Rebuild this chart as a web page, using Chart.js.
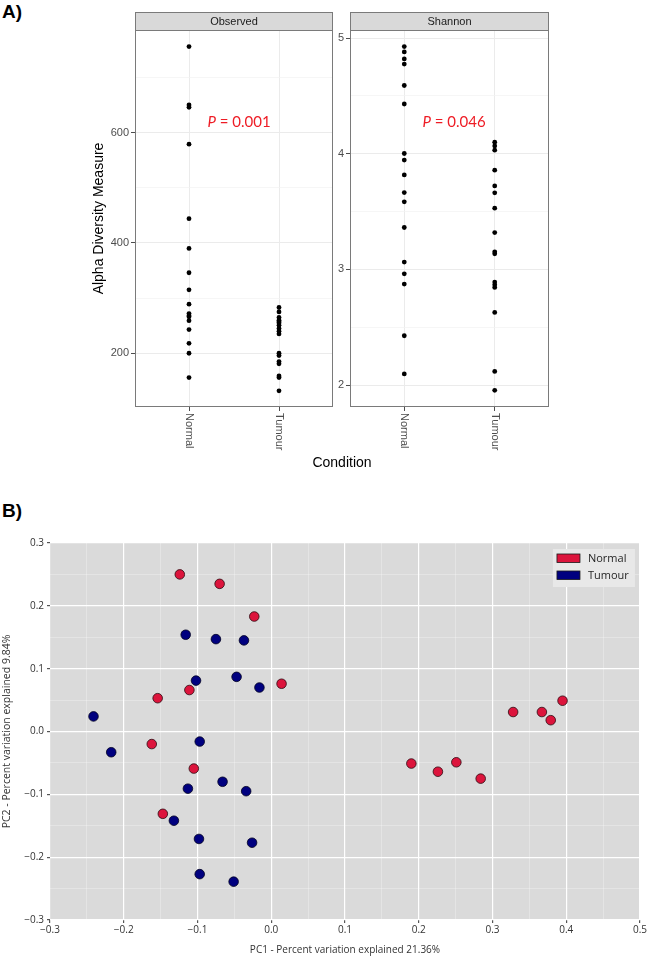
<!DOCTYPE html>
<html>
<head>
<meta charset="utf-8">
<script src="https://cdn.jsdelivr.net/npm/chart.js@4.4.1/dist/chart.umd.min.js"></script>
<style>
  html,body{margin:0;padding:0;background:#fff;}
  body{width:648px;height:959px;position:relative;overflow:hidden;}
  canvas{position:absolute;}
  .panel-label{position:absolute;font:bold 19px "Liberation Sans",Arial,sans-serif;color:#000;}
  #cond{position:absolute;left:242px;top:453px;width:200px;text-align:center;font:14px "Liberation Sans",Arial,sans-serif;line-height:18px;color:#000;}
</style>
</head>
<body>
<div class="panel-label" style="left:2px;top:1px;">A)</div>
<div class="panel-label" style="left:2px;top:500px;">B)</div>
<canvas id="obs" width="340" height="470" style="left:0;top:0;"></canvas>
<canvas id="sha" width="318" height="470" style="left:330px;top:0;"></canvas>
<div id="cond">Condition</div>
<canvas id="pca" width="648" height="469" style="left:0;top:490px;"></canvas>
<script>
// ---------------- DATA ----------------
const conditions = ['Normal', 'Tumour'];

const observedNormal = [756, 650, 646, 579, 444, 390, 346, 315, 289, 272, 268, 266, 259, 243, 218, 200, 156];
const observedTumour = [283, 275, 265, 260, 257, 255, 251, 245, 240, 235, 200, 196, 185, 181, 159, 156, 132];

const shannonNormal = [4.927, 4.88, 4.82, 4.775, 4.59, 4.43, 4.002, 3.945, 3.817, 3.664, 3.584, 3.362, 3.063, 2.962, 2.873, 2.426, 2.096];
const shannonTumour = [4.10, 4.068, 4.031, 3.858, 3.722, 3.662, 3.529, 3.318, 3.152, 3.135, 2.89, 2.867, 2.844, 2.628, 2.118, 1.954];

const observedTicks = [200, 300, 400, 500, 600, 700];
const shannonTicks = [2, 2.5, 3, 3.5, 4, 4.5, 5];

const pcaNormalPC1 = [-0.124, -0.070, -0.023, 0.014, -0.111, -0.154, -0.162, -0.105, -0.147, 0.190, 0.226, 0.251, 0.284, 0.328, 0.367, 0.379, 0.395];
const pcaNormalPC2 = [0.250, 0.235, 0.183, 0.076, 0.066, 0.053, -0.020, -0.059, -0.131, -0.051, -0.064, -0.049, -0.075, 0.031, 0.031, 0.018, 0.049];
const pcaTumourPC1 = [-0.116, -0.075, -0.037, -0.047, -0.016, -0.102, -0.241, -0.217, -0.097, -0.066, -0.113, -0.034, -0.132, -0.098, -0.026, -0.097, -0.051];
const pcaTumourPC2 = [0.154, 0.147, 0.145, 0.087, 0.070, 0.081, 0.024, -0.033, -0.016, -0.080, -0.091, -0.095, -0.142, -0.171, -0.177, -0.227, -0.239];

const pcaXTicks = [-0.3, -0.25, -0.2, -0.15, -0.1, -0.05, 0, 0.05, 0.1, 0.15, 0.2, 0.25, 0.3, 0.35, 0.4, 0.45, 0.5];
const pcaYTicks = [-0.3, -0.25, -0.2, -0.15, -0.1, -0.05, 0, 0.05, 0.1, 0.15, 0.2, 0.25, 0.3];

// ---------------- HELPERS ----------------
Chart.defaults.font.family = '"Liberation Sans", Arial, sans-serif';
const isMult = (v, m) => Math.abs(v / m - Math.round(v / m)) < 1e-6;

const facetPlugin = {
  id: 'facet',
  afterDraw(chart, args, opts) {
    const {ctx, chartArea: a} = chart;
    const xs = chart.scales.x, ys = chart.scales.y;
    ctx.save();
    // strip
    ctx.fillStyle = '#d9d9d9';
    ctx.fillRect(a.left, 12, a.right - a.left, a.top - 12);
    ctx.strokeStyle = '#7a7a7a';
    ctx.lineWidth = 1;
    ctx.strokeRect(a.left + 0.5, 12.5, a.right - a.left - 1, a.top - 12);
    ctx.fillStyle = '#1a1a1a';
    ctx.font = '11px "Liberation Sans", Arial, sans-serif';
    ctx.textAlign = 'center';
    ctx.textBaseline = 'middle';
    ctx.fillText(opts.title, (a.left + a.right) / 2, (12 + a.top) / 2 + 1);
    // panel border
    ctx.strokeRect(a.left + 0.5, a.top + 0.5, a.right - a.left - 1, a.bottom - a.top - 1);
    // rotated category labels (clockwise)
    ctx.fillStyle = '#4d4d4d';
    ctx.font = '11px "Liberation Sans", Arial, sans-serif';
    conditions.forEach((c, i) => {
      const px = xs.getPixelForValue(i + 1);
      ctx.save();
      ctx.translate(px, a.bottom + 6);
      ctx.rotate(Math.PI / 2);
      ctx.textAlign = 'left';
      ctx.textBaseline = 'middle';
      ctx.fillText(c, 0, 0);
      ctx.restore();
    });
    // P annotation
    const px = xs.getPixelForValue(opts.px), py = ys.getPixelForValue(opts.py);
    ctx.fillStyle = '#ee1c25';
    ctx.textBaseline = 'middle';
    ctx.textAlign = 'left';
    ctx.font = 'italic 15px Lato, "Open Sans", sans-serif';
    const wP = ctx.measureText('P').width;
    ctx.font = '15px Lato, "Open Sans", sans-serif';
    const rest = ' = ' + opts.pValue;
    const wR = ctx.measureText(rest).width;
    const x0 = px - (wP + wR) / 2;
    ctx.font = 'italic 15px Lato, "Open Sans", sans-serif';
    ctx.fillText('P', x0, py);
    ctx.font = '15px Lato, "Open Sans", sans-serif';
    ctx.fillText(rest, x0 + wP, py);
    ctx.restore();
  }
};

function facetChart(id, vals, yMin, yMax, yTicks, majorStep, opts) {
  return new Chart(document.getElementById(id), {
    type: 'scatter',
    data: {
      datasets: conditions.map((c, i) => ({
        label: c,
        data: vals[i].map(v => ({x: i + 1, y: v})),
        backgroundColor: '#000',
        borderWidth: 0,
        pointRadius: 2.4,
        pointHoverRadius: 2.4
      }))
    },
    options: {
      responsive: false,
      animation: false,
      events: [],
      layout: {padding: opts.padding},
      plugins: {legend: {display: false}, tooltip: {enabled: false}, facet: opts.facet},
      scales: {
        x: {
          type: 'linear', min: 0.4, max: 2.6,
          afterBuildTicks: s => { s.ticks = conditions.map((c, i) => ({value: i + 1})); },
          ticks: {display: false},
          grid: {color: '#ebebeb', lineWidth: 1, tickColor: '#4d4d4d', tickLength: 4},
          border: {display: false},
          afterFit: s => { s.height = 470 - 407; }
        },
        y: {
          type: 'linear', min: yMin, max: yMax,
          afterBuildTicks: s => { s.ticks = yTicks.map(v => ({value: v})); },
          ticks: {
            color: '#4d4d4d', font: {size: 11}, padding: 2,
            callback: v => isMult(v, majorStep) ? String(v) : ''
          },
          grid: {
            color: c => (c.tick && isMult(c.tick.value, majorStep)) ? '#ebebeb' : '#f2f2f2',
            lineWidth: c => (c.tick && isMult(c.tick.value, majorStep)) ? 1 : 0.7,
            tickColor: c => (c.tick && isMult(c.tick.value, majorStep)) ? '#4d4d4d' : 'rgba(0,0,0,0)',
            tickLength: 4
          },
          border: {display: false},
          title: opts.yTitle ? {display: true, text: opts.yTitle, color: '#000', font: {size: 14}, padding: {top: 3, bottom: 0}} : {display: false},
          afterFit: s => { s.width = opts.yWidth; }
        }
      }
    },
    plugins: [facetPlugin]
  });
}

facetChart('obs', [observedNormal, observedTumour], 102.6, 786, observedTicks, 200, {
  padding: {left: 88, right: 7, top: 30, bottom: 0},
  yWidth: 47,
  yTitle: 'Alpha Diversity Measure',
  facet: {title: 'Observed', pValue: '0.001', px: 1.556, py: 619}
});

facetChart('sha', [shannonNormal, shannonTumour], 1.81, 5.07, shannonTicks, 1, {
  padding: {left: 0, right: 99, top: 30, bottom: 0},
  yWidth: 20,
  yTitle: null,
  facet: {title: 'Shannon', pValue: '0.046', px: 1.55, py: 4.276}
});

// ---------------- PANEL B ----------------
const bgPlugin = {
  id: 'bg',
  beforeDraw(chart) {
    const {ctx, chartArea: a} = chart;
    ctx.save();
    ctx.fillStyle = '#dadada';
    ctx.fillRect(a.left, a.top, a.right - a.left, a.bottom - a.top);
    ctx.restore();
  }
};
const boxLegendPlugin = {
  id: 'boxLegend',
  afterDraw(chart) {
    const {ctx, chartArea: a} = chart;
    const ds = chart.data.datasets;
    const bx = a.right - 87, by = a.top + 6, bw = 82, bh = 38;
    ctx.save();
    ctx.fillStyle = '#e8e8e8';
    ctx.fillRect(bx, by, bw, bh);
    ds.forEach((d, i) => {
      const ry = by + 5 + i * 17;
      ctx.fillStyle = d.backgroundColor;
      ctx.fillRect(bx + 4, ry, 23, 8.5);
      ctx.strokeStyle = '#1a1a1a';
      ctx.lineWidth = 0.8;
      ctx.strokeRect(bx + 4, ry, 23, 8.5);
      ctx.fillStyle = '#262626';
      ctx.font = '11px "Open Sans", sans-serif';
      ctx.textAlign = 'left';
      ctx.textBaseline = 'middle';
      ctx.fillText(d.label, bx + 35, ry + 4.5);
    });
    ctx.restore();
  }
};
const fmt = v => (v < 0 ? '\u2212' : '') + Math.abs(v).toFixed(1);

new Chart(document.getElementById('pca'), {
  type: 'scatter',
  data: {
    datasets: [
      {label: 'Normal', data: pcaNormalPC1.map((x, i) => ({x, y: pcaNormalPC2[i]})),
       backgroundColor: '#dc143c', borderColor: '#2b0a10', borderWidth: 0.8, pointRadius: 4.8, pointHoverRadius: 4.8},
      {label: 'Tumour', data: pcaTumourPC1.map((x, i) => ({x, y: pcaTumourPC2[i]})),
       backgroundColor: '#00007f', borderColor: '#000020', borderWidth: 0.8, pointRadius: 4.8, pointHoverRadius: 4.8}
    ]
  },
  options: {
    responsive: false,
    animation: false,
    events: [],
    layout: {padding: {left: 0, right: 8, top: 53, bottom: 0}},
    plugins: {legend: {display: false}, tooltip: {enabled: false}},
    scales: {
      x: {
        type: 'linear', min: -0.3, max: 0.5,
        afterBuildTicks: s => { s.ticks = pcaXTicks.map(v => ({value: v})); },
        ticks: {color: '#333', font: {size: 10, family: '"Open Sans", sans-serif'}, padding: 1, maxRotation: 0, autoSkip: false,
                callback: v => isMult(v, 0.1) ? fmt(v) : ''},
        grid: {
          color: c => (c.tick && isMult(c.tick.value, 0.1)) ? '#ffffff' : 'rgba(255,255,255,0.45)',
          lineWidth: c => (c.tick && isMult(c.tick.value, 0.1)) ? 1.2 : 0.6,
          tickColor: c => (c.tick && isMult(c.tick.value, 0.1)) ? '#555' : 'rgba(0,0,0,0)',
          tickLength: 3
        },
        border: {display: false},
        title: {display: true, text: 'PC1 - Percent variation explained 21.36%', color: '#333',
                font: {size: 10, family: '"Open Sans", sans-serif'}, padding: {top: 0, bottom: 3}},
        afterFit: s => { s.height = 39; }
      },
      y: {
        type: 'linear', min: -0.3, max: 0.3,
        afterBuildTicks: s => { s.ticks = pcaYTicks.map(v => ({value: v})); },
        ticks: {color: '#333', font: {size: 10, family: '"Open Sans", sans-serif'}, padding: 3, autoSkip: false,
                callback: v => isMult(v, 0.1) ? fmt(v) : ''},
        grid: {
          color: c => (c.tick && isMult(c.tick.value, 0.1)) ? '#ffffff' : 'rgba(255,255,255,0.45)',
          lineWidth: c => (c.tick && isMult(c.tick.value, 0.1)) ? 1.2 : 0.6,
          tickColor: c => (c.tick && isMult(c.tick.value, 0.1)) ? '#555' : 'rgba(0,0,0,0)',
          tickLength: 3
        },
        border: {display: false},
        title: {display: true, text: 'PC2 - Percent variation explained 9.84%', color: '#333',
                font: {size: 10.5, family: '"Open Sans", sans-serif'}, padding: {top: 1, bottom: 0}},
        afterFit: s => { s.width = 50; }
      }
    }
  },
  plugins: [bgPlugin, boxLegendPlugin]
});
</script>
</body>
</html>
